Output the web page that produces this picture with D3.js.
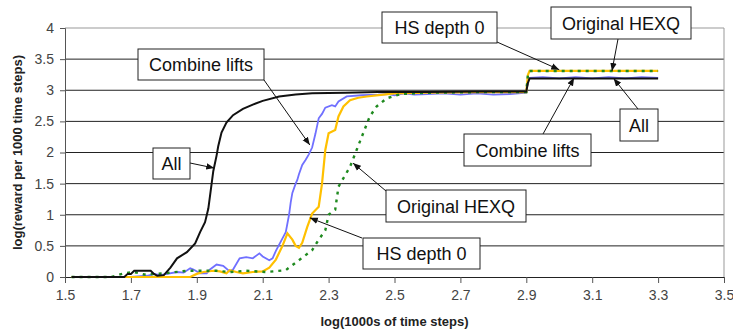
<!DOCTYPE html>
<html>
<head>
<meta charset="utf-8">
<script src="https://cdn.jsdelivr.net/npm/d3@7"></script>
<style>
  body { margin: 0; background: #fff; }
  svg { display: block; font-family: Arial, "Liberation Sans", sans-serif; }
</style>
</head>
<body>
<svg id="chart"></svg>
<script>
const width = 733;
const height = 329;

// tick values
const xTicks = [1.5, 1.7, 1.9, 2.1, 2.3, 2.5, 2.7, 2.9, 3.1, 3.3, 3.5];
const yTicks = [0, 0.5, 1, 1.5, 2, 2.5, 3, 3.5, 4];

// series: [log(1000s of time steps), log(reward per 1000 time steps)]
const seriesAll = [
  [1.52, 0], [1.68, 0], [1.69, 0.05], [1.70, 0.05], [1.71, 0.1], [1.76, 0.1], [1.77, 0.05],
  [1.78, 0.02], [1.80, 0.03], [1.82, 0.15], [1.84, 0.3], [1.87, 0.4], [1.895, 0.54],
  [1.91, 0.72], [1.925, 0.88], [1.935, 1.1], [1.94, 1.3], [1.95, 1.7], [1.96, 1.95],
  [1.965, 2.1], [1.975, 2.32], [1.99, 2.48], [2.01, 2.6], [2.04, 2.7], [2.07, 2.77],
  [2.1, 2.83], [2.15, 2.9], [2.2, 2.93], [2.25, 2.95], [2.35, 2.96], [2.45, 2.97],
  [2.6, 2.97], [2.75, 2.98], [2.9, 2.98], [2.905, 3.12], [2.91, 3.19], [3.3, 3.19]
];

const seriesCombine = [
  [1.60, 0], [1.70, 0], [1.75, 0.02], [1.77, 0.05], [1.79, 0.03], [1.81, 0.05], [1.84, 0.08],
  [1.86, 0.07], [1.88, 0.14], [1.89, 0.12], [1.91, 0.06], [1.93, 0.06], [1.94, 0.12],
  [1.96, 0.2], [1.98, 0.18], [2.0, 0.09], [2.01, 0.12], [2.03, 0.3], [2.05, 0.32],
  [2.07, 0.3], [2.09, 0.38], [2.1, 0.33], [2.12, 0.27], [2.13, 0.3], [2.14, 0.42],
  [2.16, 0.62], [2.17, 0.72], [2.18, 1.0], [2.185, 1.2], [2.19, 1.35], [2.2, 1.5],
  [2.205, 1.56], [2.21, 1.65], [2.22, 1.8], [2.23, 1.88], [2.24, 1.97], [2.25, 2.08],
  [2.26, 2.3], [2.27, 2.55], [2.28, 2.62], [2.29, 2.72], [2.31, 2.76], [2.32, 2.74],
  [2.33, 2.82], [2.355, 2.9], [2.4, 2.92], [2.45, 2.93], [2.48, 2.94], [2.5, 2.92],
  [2.53, 2.95], [2.56, 2.93], [2.6, 2.94], [2.65, 2.95], [2.7, 2.93], [2.75, 2.95],
  [2.8, 2.93], [2.85, 2.94], [2.9, 2.96], [2.905, 3.15], [2.91, 3.2], [2.95, 3.21],
  [3.0, 3.19], [3.05, 3.21], [3.1, 3.19], [3.15, 3.21], [3.2, 3.19], [3.25, 3.21], [3.3, 3.2]
];

const seriesHS0 = [
  [1.52, 0], [1.88, 0], [1.9, 0.05], [1.92, 0.08], [1.95, 0.1], [1.97, 0.09], [1.99, 0.06],
  [2.0, 0.11], [2.02, 0.08], [2.04, 0.06], [2.07, 0.08], [2.1, 0.09], [2.12, 0.15],
  [2.14, 0.28], [2.16, 0.5], [2.175, 0.7], [2.19, 0.6], [2.2, 0.5], [2.21, 0.47],
  [2.22, 0.55], [2.235, 0.8], [2.25, 1.02], [2.27, 1.13], [2.28, 1.5], [2.29, 2.04],
  [2.30, 2.31], [2.32, 2.36], [2.33, 2.58], [2.345, 2.74], [2.365, 2.84], [2.39, 2.88],
  [2.416, 2.9], [2.466, 2.93], [2.5, 2.95], [2.6, 2.96], [2.75, 2.97], [2.9, 2.97],
  [2.905, 3.25], [2.91, 3.31], [3.3, 3.31]
];

const seriesHexq = [
  [1.52, 0], [1.64, 0], [1.66, 0.03], [1.68, 0.06], [1.71, 0.08], [1.74, 0.04], [1.78, 0.05],
  [1.82, 0.07], [1.87, 0.1], [1.91, 0.1], [1.96, 0.1], [2.0, 0.08], [2.05, 0.1], [2.11, 0.08],
  [2.17, 0.11], [2.21, 0.27], [2.25, 0.43], [2.27, 0.6], [2.29, 0.75], [2.30, 1.0],
  [2.32, 1.08], [2.33, 1.45], [2.365, 1.77], [2.385, 2.04], [2.405, 2.31], [2.425, 2.58],
  [2.446, 2.74], [2.476, 2.87], [2.52, 2.94], [2.6, 2.96], [2.75, 2.97], [2.9, 2.97],
  [2.905, 3.25], [2.91, 3.31], [3.3, 3.31]
];

// callout labels: text, box (px), arrow target (data)
const callouts = [
  {text: "Combine lifts", box: [138, 49, 126, 31], from: [264, 80], to: [2.243, 2.12]},
  {text: "All", box: [153, 148, 37, 31], from: [190, 163], to: [1.953, 1.75]},
  {text: "HS depth 0", box: [382, 12, 115, 31], from: [497, 42], to: [3.0, 3.33]},
  {text: "Original HEXQ", box: [551, 7, 140, 32], from: [618, 39], to: [3.16, 3.31]},
  {text: "All", box: [620, 109, 38, 32], from: [638, 109], to: [3.165, 3.19]},
  {text: "Combine lifts", box: [464, 134, 127, 32], from: [543, 134], to: [3.045, 3.2]},
  {text: "Original HEXQ", box: [386, 190, 140, 32], from: [386, 191], to: [2.374, 1.83]},
  {text: "HS depth 0", box: [363, 238, 117, 31], from: [362, 238], to: [2.243, 0.95]}
];

const margin = {top: 28, right: 9, bottom: 52, left: 65};

const svg = d3.select("#chart")
  .attr("width", width)
  .attr("height", height);

const x = d3.scaleLinear().domain([1.5, 3.5]).range([margin.left, width - margin.right]);
const y = d3.scaleLinear().domain([0, 4]).range([height - margin.bottom, margin.top]);

// gridlines
svg.append("g")
  .selectAll("line")
  .data(yTicks.filter(d => d > 0))
  .enter()
  .append("line")
  .attr("x1", x(1.5))
  .attr("x2", x(3.5))
  .attr("y1", d => y(d))
  .attr("y2", d => y(d))
  .attr("stroke", d => d === 4 ? "#999" : "#222")
  .attr("stroke-width", 1);

// right border
svg.append("line")
  .attr("x1", x(3.5)).attr("x2", x(3.5))
  .attr("y1", y(4)).attr("y2", y(0))
  .attr("stroke", "#999");

// axes
const xAxis = svg.append("g")
  .attr("transform", `translate(0,${y(0)})`)
  .call(d3.axisBottom(x).tickValues(xTicks).tickFormat(d3.format(".1f")).tickSizeOuter(0).tickSize(6).tickPadding(7));
const yAxis = svg.append("g")
  .attr("transform", `translate(${x(1.5)},0)`)
  .call(d3.axisLeft(y).tickValues(yTicks).tickFormat(d => d).tickSizeOuter(0).tickSize(5).tickPadding(6));

[xAxis, yAxis].forEach(a => {
  a.select(".domain").attr("stroke", "#555");
  a.selectAll(".tick line").attr("stroke", "#555");
  a.selectAll(".tick text").attr("font-size", 14).attr("fill", "#444")
    .attr("font-family", "Arial, 'Liberation Sans', sans-serif");
});
xAxis.select(".domain").attr("stroke", "#222");

// axis titles
svg.append("text")
  .attr("x", x(2.5))
  .attr("y", 326)
  .attr("text-anchor", "middle")
  .attr("font-size", 13)
  .attr("font-weight", "bold")
  .attr("fill", "#222")
  .text("log(1000s of time steps)");

svg.append("text")
  .attr("transform", `translate(22,${(y(0) + y(4)) / 2}) rotate(-90)`)
  .attr("text-anchor", "middle")
  .attr("font-size", 13)
  .attr("font-weight", "bold")
  .attr("fill", "#222")
  .text("log(reward per 1000 time steps)");

// lines
const line = d3.line().x(d => x(d[0])).y(d => y(d[1]));

svg.append("path").datum(seriesCombine)
  .attr("d", line).attr("fill", "none")
  .attr("stroke", "#7070ff").attr("stroke-width", 1.8);

svg.append("path").datum(seriesHS0)
  .attr("d", line).attr("fill", "none")
  .attr("stroke", "#ffc000").attr("stroke-width", 2.2);

svg.append("path").datum(seriesHexq)
  .attr("d", line).attr("fill", "none")
  .attr("stroke", "#1f8a1f").attr("stroke-width", 2.4)
  .attr("stroke-dasharray", "3,5");

svg.append("path").datum(seriesAll)
  .attr("d", line).attr("fill", "none")
  .attr("stroke", "#111").attr("stroke-width", 2);

// arrowhead
svg.append("defs").append("marker")
  .attr("id", "arrow")
  .attr("viewBox", "0 0 10 10")
  .attr("refX", 10).attr("refY", 5)
  .attr("markerWidth", 8).attr("markerHeight", 8)
  .attr("markerUnits", "userSpaceOnUse")
  .attr("orient", "auto")
  .append("path")
  .attr("d", "M0,1 L10,5 L0,9 Z")
  .attr("fill", "#111");

// callouts
const cg = svg.append("g");
callouts.forEach(c => {
  cg.append("line")
    .attr("x1", c.from[0]).attr("y1", c.from[1])
    .attr("x2", x(c.to[0])).attr("y2", y(c.to[1]))
    .attr("stroke", "#111").attr("stroke-width", 1)
    .attr("marker-end", "url(#arrow)");
});
callouts.forEach(c => {
  const [bx, by, bw, bh] = c.box;
  cg.append("rect")
    .attr("x", bx).attr("y", by).attr("width", bw).attr("height", bh)
    .attr("fill", "#fff").attr("stroke", "#222").attr("stroke-width", 1);
  cg.append("text")
    .attr("x", bx + bw / 2).attr("y", by + bh / 2 + 6.5)
    .attr("text-anchor", "middle")
    .attr("font-size", 18)
    .attr("fill", "#111")
    .text(c.text);
});
</script>
</body>
</html>
